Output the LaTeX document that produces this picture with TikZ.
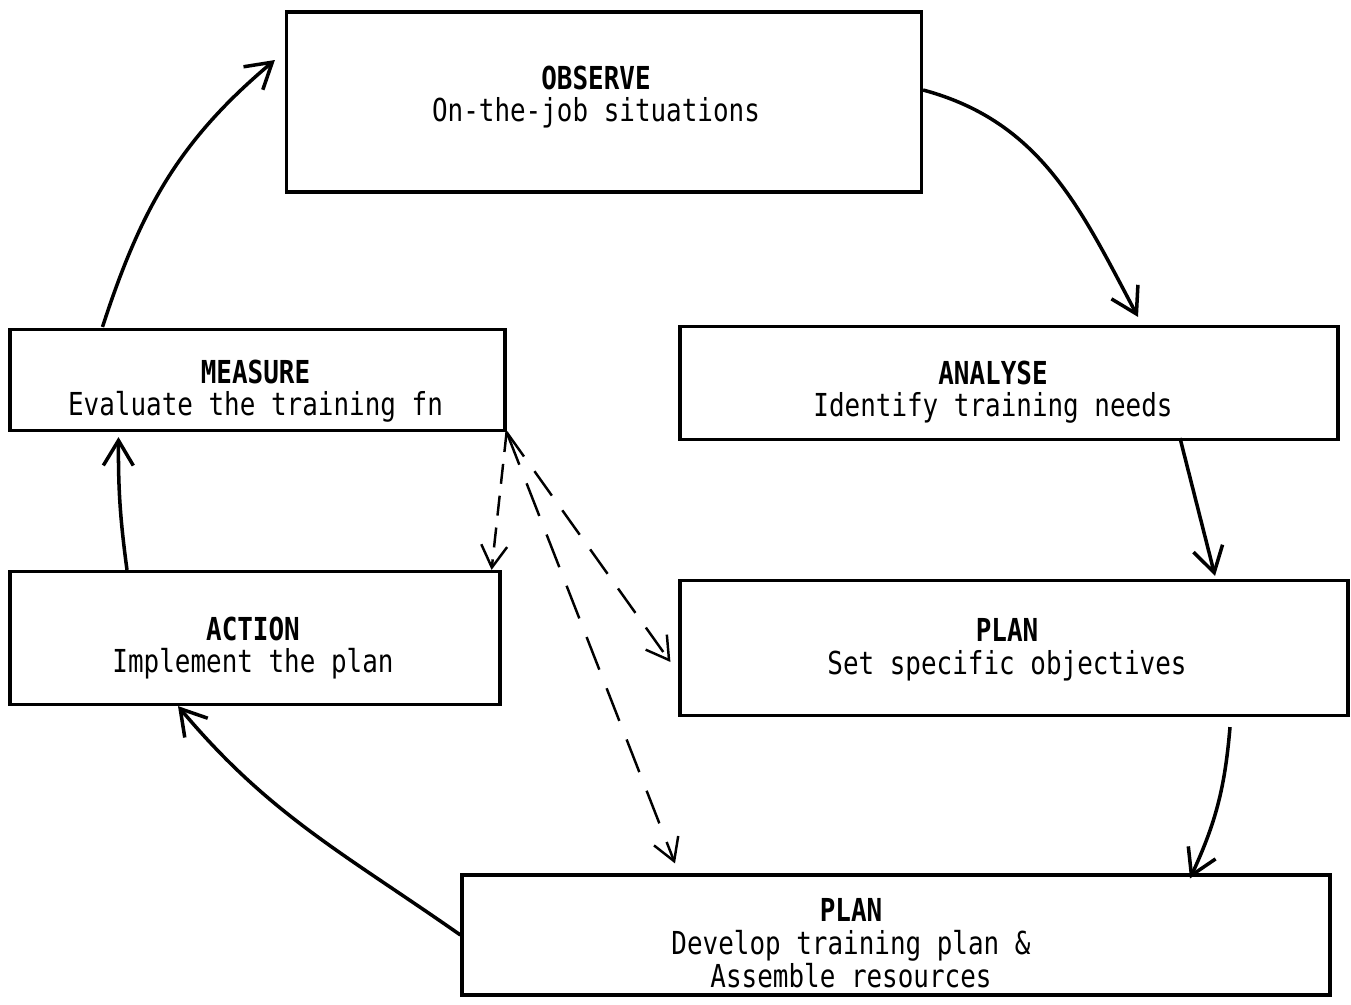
\documentclass[tikz,border=0pt]{standalone}
\usepackage{fontspec}
\newfontfamily\typefont[FakeStretch=0.82]{DejaVu Sans Mono}
\usetikzlibrary{arrows.meta}
\tikzset{
  stage/.style={rectangle, draw=black, line width=0.9pt},
  caption/.style={align=center, inner sep=0pt, font=\typefont\fontsize{9}{9.3}\selectfont},
  flow/.style={line width=1pt, -{Straight Barb[length=2.5mm,width=3mm]}},
  dashflow/.style={line width=0.7pt, dash pattern=on 3mm off 1.8mm, -{Straight Barb[length=2.2mm,width=2.6mm]}}
}

\begin{document}
\begin{tikzpicture}
    \useasboundingbox (0,0) rectangle (13.51,-10.04);

    % Stages of the cycle
    \node[stage, minimum width=6.35cm, minimum height=1.8cm] (observe) at (6.04,-1.02) {};
    \node[stage, minimum width=6.58cm, minimum height=1.13cm] (analyse) at (10.09,-3.83) {};
    \node[stage, minimum width=6.68cm, minimum height=1.35cm] (plan) at (10.14,-6.48) {};
    \node[stage, minimum width=8.68cm, minimum height=1.2cm] (develop) at (8.96,-9.35) {};
    \node[stage, minimum width=4.9cm, minimum height=1.33cm] (action) at (2.55,-6.38) {};
    \node[stage, minimum width=4.95cm, minimum height=1.01cm] (measure) at (2.575,-3.8) {};

    % Texts of the stages
    \node[caption] (observetxt) at ([xshift=-0.08cm,yshift=0.05cm]observe.center) {\textbf{OBSERVE}\\On-the-job situations};
    \node[caption] (analysetxt) at ([xshift=-0.16cm,yshift=-0.09cm]analyse.center) {\textbf{ANALYSE}\\Identify training needs};
    \node[caption] (plantxt) at ([xshift=-0.07cm,yshift=-0.02cm]plan.center) {\textbf{PLAN}\\Set specific objectives};
    \node[caption] (developtxt) at ([xshift=-0.45cm,yshift=-0.08cm]develop.center) {\textbf{PLAN}\\Develop training plan \&\\Assemble resources};
    \node[caption] (actiontxt) at ([xshift=-0.02cm,yshift=-0.1cm]action.center) {\textbf{ACTION}\\Implement the plan};
    \node[caption] (measuretxt) at ([xshift=-0.02cm,yshift=-0.11cm]measure.center) {\textbf{MEASURE}\\Evaluate the training fn};

    % --- Main cycle ---
    \draw[flow] ([yshift=0.12cm]observe.east) to[out=-15,in=118] ([xshift=1.29cm,yshift=0.08cm]analyse.north);
    \draw[flow] ([xshift=1.71cm,yshift=0.03cm]analyse.south) -- ([xshift=2.01cm,yshift=0.03cm]plan.north);
    \draw[flow] ([xshift=2.16cm,yshift=-0.1cm]plan.south) to[bend left=10] ([xshift=2.94cm,yshift=-0.05cm]develop.north);
    \draw[flow] (develop.west) to[out=145,in=-50] ([xshift=-0.77cm]action.south);
    \draw[flow] ([xshift=-1.28cm]action.north) to[bend left=4] ([xshift=-1.39cm,yshift=-0.05cm]measure.south);
    \draw[flow] ([xshift=-1.55cm,yshift=0.01cm]measure.north) to[out=72,in=-140] ([xshift=-0.1cm,yshift=0.42cm]observe.west);

    % --- Feedback from MEASURE (dashed) ---
    \draw[dashflow, dash pattern=on 2mm off 1.2mm] (measure.south east) -- ([xshift=-0.1cm]action.north east);
    \draw[dashflow] (measure.south east) -- ([xshift=-0.08cm,yshift=-0.14cm]plan.west);
    \draw[dashflow, dash pattern=on 3.5mm off 2mm] (measure.south east) -- ([xshift=-2.21cm,yshift=0.1cm]develop.north);

\end{tikzpicture}
\end{document}
